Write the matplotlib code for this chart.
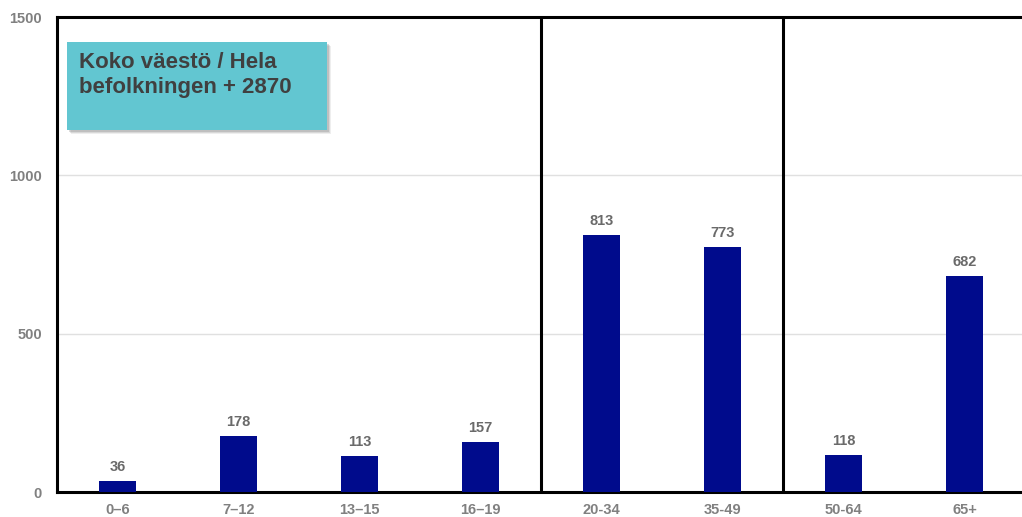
import matplotlib
matplotlib.use("Agg")
import matplotlib.pyplot as plt
from matplotlib.patches import Rectangle

categories = ["0–6", "7–12", "13–15", "16–19", "20-34", "35-49", "50-64", "65+"]
values = [36, 178, 113, 157, 813, 773, 118, 682]
yticks = [0, 500, 1000, 1500]
title_text = "Koko väestö / Hela\nbefolkningen + 2870"

plt.rcParams['font.family'] = ['Liberation Sans', 'DejaVu Sans']

W, H = 1022, 517
fig = plt.figure(figsize=(W / 100, H / 100), dpi=100)
ax = fig.add_axes([57 / W, (H - 492) / H, 968 / W, 475 / H])

x = list(range(len(categories)))
ax.bar(x, values, width=0.3, color="#000b8c", zorder=3)
for xi, v in zip(x, values):
    ax.annotate(str(v), (xi, v), xytext=(0, 5), textcoords="offset points",
                ha="center", va="bottom", fontsize=10.5, fontweight="bold", color="#6a6a6a")

ax.set_xlim(-0.5, len(categories) - 0.5)
ax.set_ylim(0, 1500)
ax.set_yticks(yticks)
ax.set_xticks(x)
ax.set_xticklabels(categories)
ax.tick_params(axis="both", length=0, labelsize=10.5, labelcolor="#808080")
for lab in ax.get_xticklabels() + ax.get_yticklabels():
    lab.set_fontweight("bold")
ax.tick_params(axis="y", pad=11)
ax.tick_params(axis="x", pad=8)
ax.grid(axis="y", color="#e0e0e0", linewidth=1, zorder=0)
ax.set_axisbelow(True)
for s in ["top", "left", "bottom", "right"]:
    ax.spines[s].set_color("black")
    ax.spines[s].set_linewidth(2.2)
for xv in [3.5, 5.5]:
    ax.axvline(xv, color="black", linewidth=2.2, zorder=4)

# text box with soft shadow
bx0, by0, bw, bh = 67, 42, 260, 88
for i, a in enumerate([0.12, 0.18, 0.25]):
    off = 4 - i
    sh = Rectangle(((bx0 + off) / W, 1 - (by0 + bh + off) / H), bw / W, bh / H,
                   transform=fig.transFigure, facecolor="#777777", alpha=a,
                   edgecolor="none", zorder=5)
    fig.patches.append(sh)
box = Rectangle((bx0 / W, 1 - (by0 + bh) / H), bw / W, bh / H,
                transform=fig.transFigure, facecolor="#62c6d1",
                edgecolor="none", zorder=6)
fig.patches.append(box)
fig.text(79 / W, 1 - 52 / H, title_text, ha="left", va="top", fontsize=16,
         fontweight="bold", color="#404040", linespacing=1.25, zorder=7)

fig.savefig("out.png", dpi=100)
